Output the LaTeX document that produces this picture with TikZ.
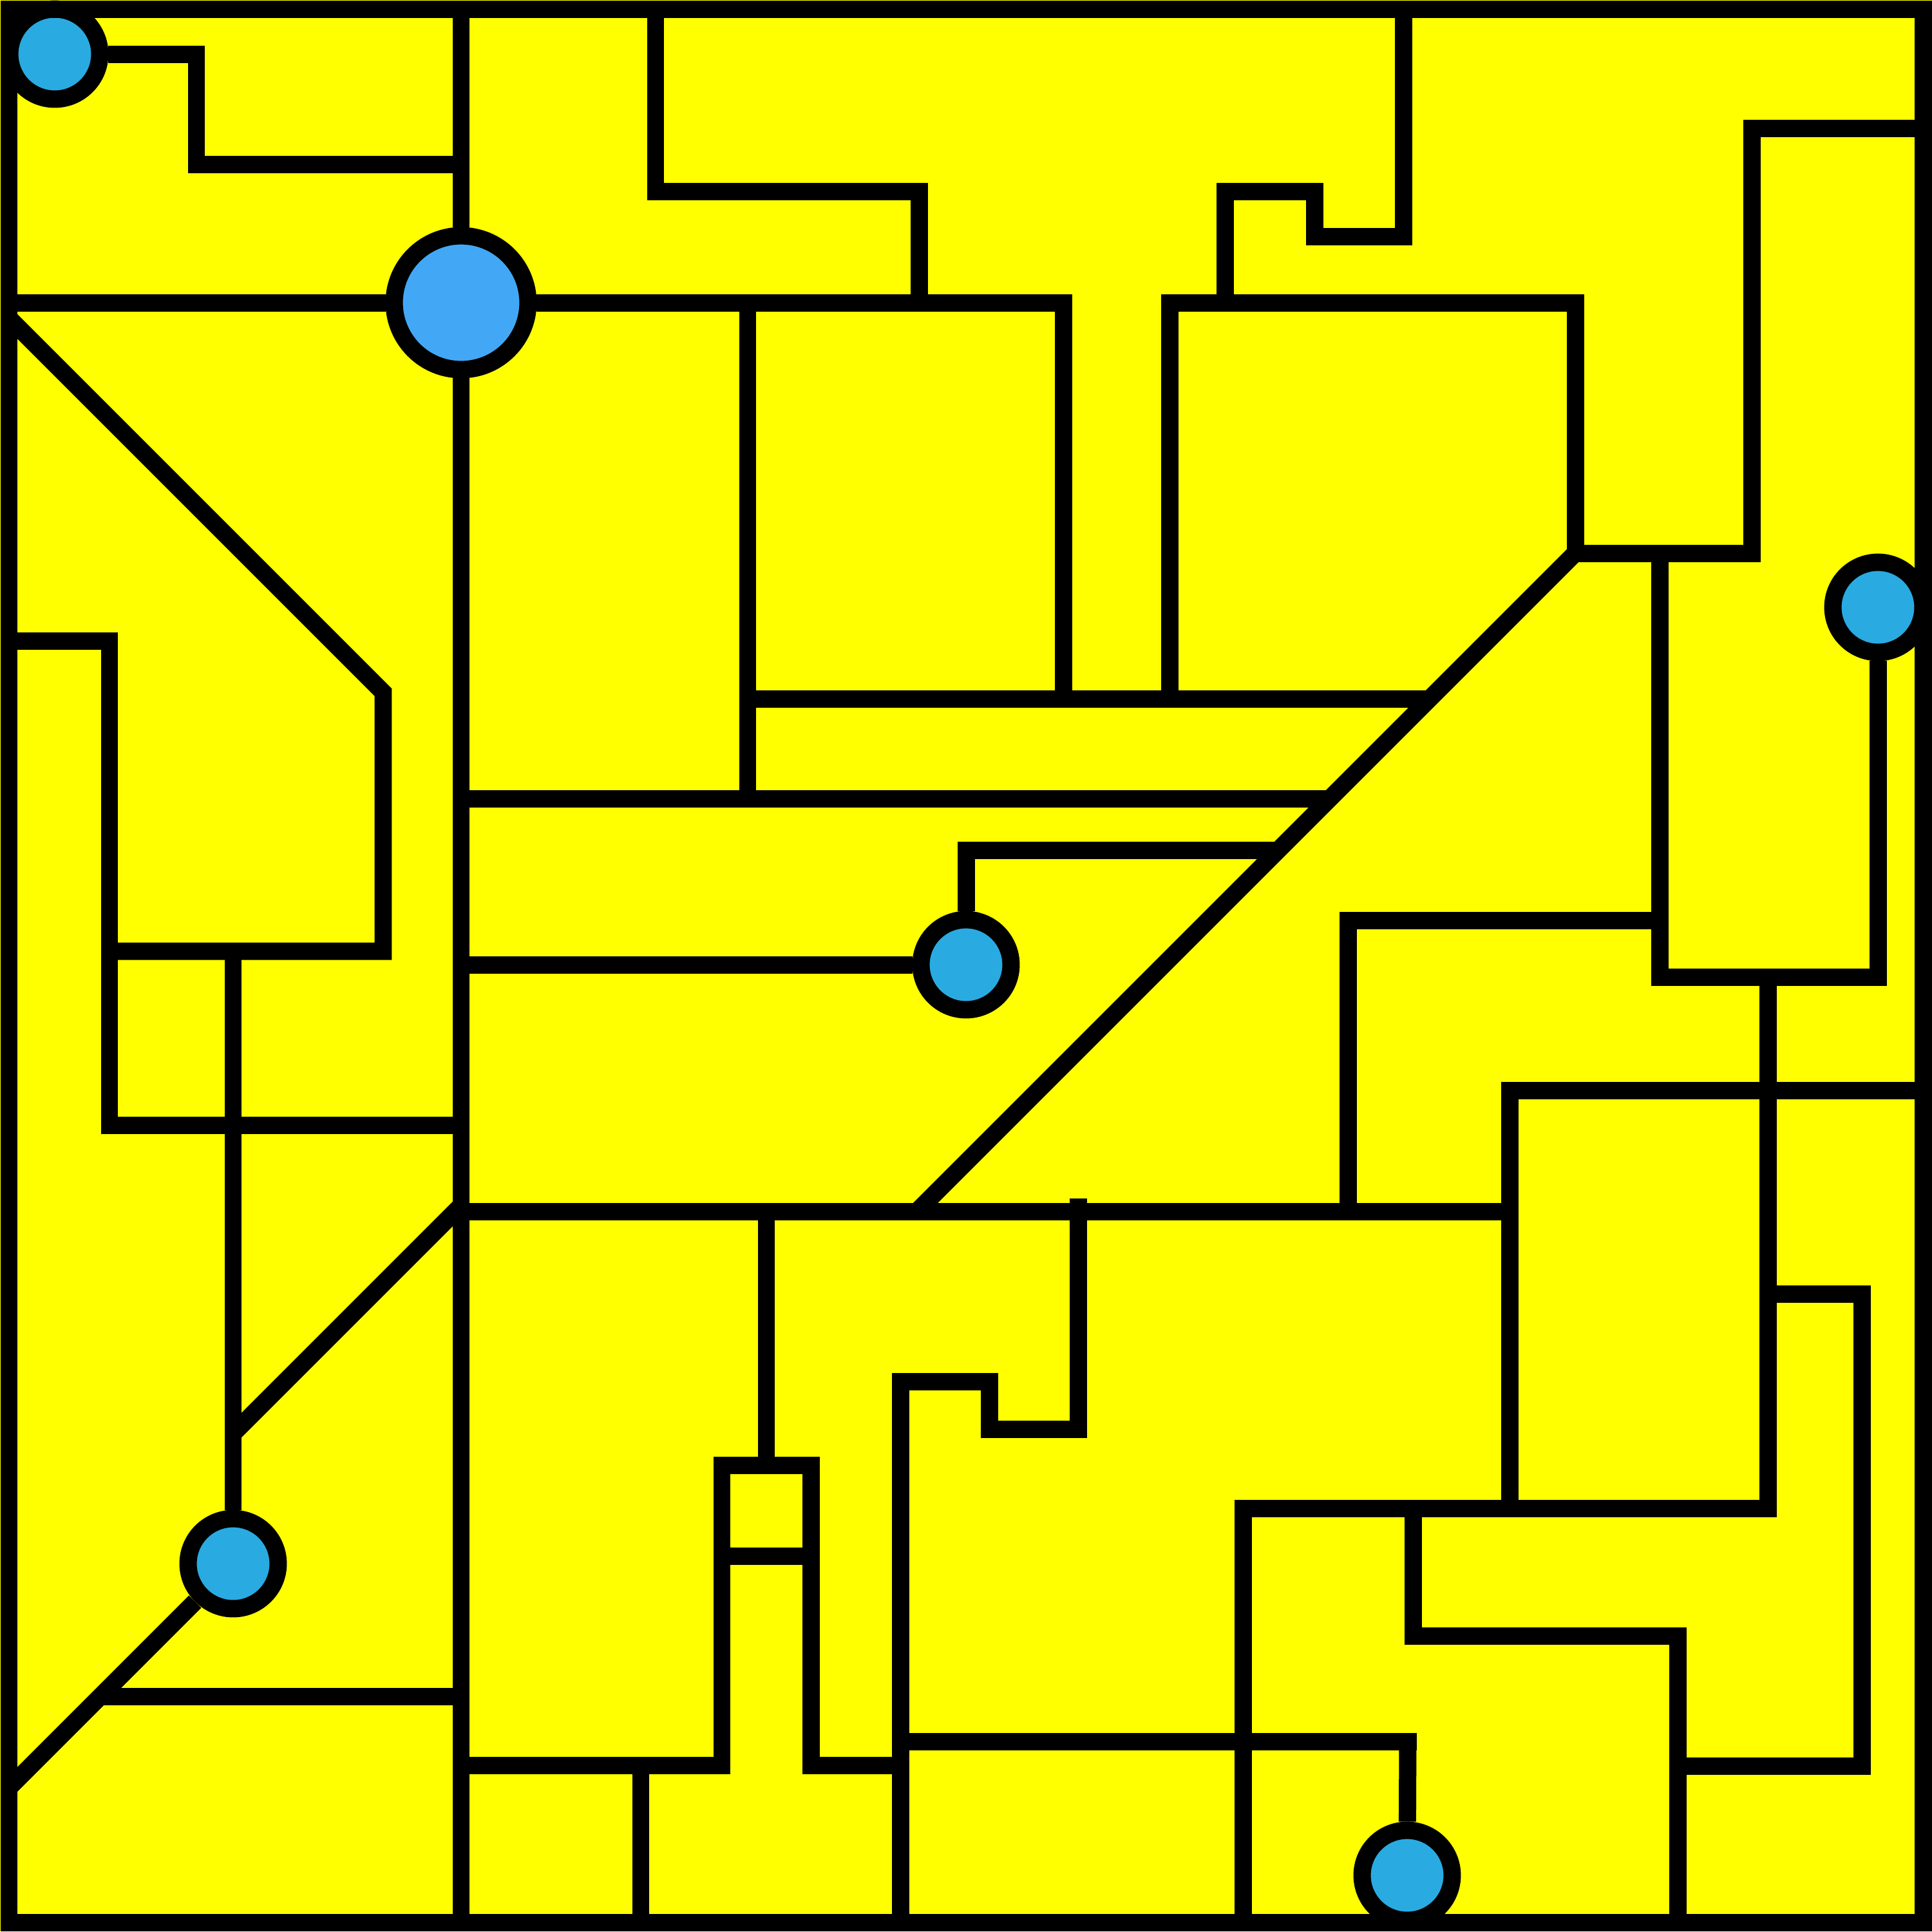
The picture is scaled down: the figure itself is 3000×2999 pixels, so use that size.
\documentclass[tikz,border=0pt]{standalone}
\definecolor{mazeyellow}{RGB}{255,255,0}
\definecolor{stopblue}{RGB}{41,171,226}
\definecolor{hubblue}{RGB}{66,168,245}
\tikzset{
  wall/.style={line width=0.135cm, line join=miter},
  stop/.style={circle, draw, line width=0.135cm, fill=stopblue, minimum size=0.7cm, inner sep=0pt},
  hub/.style={stop, fill=hubblue, minimum size=1.04cm}
}
\begin{document}
\begin{tikzpicture}[x=0.005cm, y=-0.005cm]
  \useasboundingbox (0,0) rectangle (3000,2999);
  \fill[mazeyellow] (0,0) rectangle (3000,2999);

  % stops
  \node[stop] (tl) at (85,84) {};
  \node[hub] (hub) at (716,470) {};
  \node[stop] (rt) at (2916,943) {};
  \node[stop] (mid) at (1500,1498) {};
  \node[stop] (ll) at (362,2428) {};
  \node[stop] (bt) at (2185,2912) {};

  % frame
  \draw[wall] (14,14) rectangle (2986,2985);

  % top band
  \draw[wall] (tl) -- (305,84) -- (305,255) -- (716,255);
  \draw[wall] (716,14) -- (hub);
  \draw[wall] (hub) -- (716,2985);
  \draw[wall] (14,470) -- (hub);
  \draw[wall] (hub) -- (1651,470) -- (1651,1085);
  \draw[wall] (1018,14) -- (1018,297) -- (1427,297) -- (1427,470);
  \draw[wall] (1161,470) -- (1161,1240);
  \draw[wall] (1161,1085) -- (2220,1085);
  \draw[wall] (1816,1085) -- (1816,470) -- (2446,470) -- (2446,859)
    -- (2720,859) -- (2720,199) -- (2986,199);
  \draw[wall] (1902,470) -- (1902,297) -- (2041,297) -- (2041,367)
    -- (2179,367) -- (2179,14);

  % long diagonal and its side walls
  \draw[wall] (2446,859) -- (1424,1881);
  \draw[wall] (716,1240) -- (2065,1240);
  \draw[wall] (mid) -- (1500,1320) -- (1985,1320);
  \draw[wall] (716,1498) -- (mid);
  \draw[wall] (2577,859) -- (2577,1517) -- (2916,1517) -- (rt);
  \draw[wall] (2577,1429) -- (2093,1429) -- (2093,1881);
  \draw[wall] (716,1881) -- (2344,1881);

  % left side
  \draw[wall] (14,494) -- (595,1075) -- (595,1477) -- (170,1477);
  \draw[wall] (14,995) -- (170,995) -- (170,1747) -- (716,1747);
  \draw[wall] (362,1477) -- (ll);
  \draw[wall] (362,2226) -- (716,1872);
  \draw[wall] (ll) -- (14,2776);
  \draw[wall] (156,2634) -- (716,2634);

  % bottom middle
  \draw[wall] (716,2741) -- (1121,2741) -- (1121,2275) -- (1259,2275)
    -- (1259,2741) -- (1398,2741);
  \draw[wall] (1121,2416) -- (1259,2416);
  \draw[wall] (1190,1881) -- (1190,2275);
  \draw[wall] (995,2741) -- (995,2985);
  \draw[wall] (1398,2985) -- (1398,2145) -- (1536,2145) -- (1536,2219)
    -- (1674,2219) -- (1674,1861);
  \draw[wall] (1398,2704) -- (2200,2704);
  \draw[wall] (2186,2704) -- (bt);

  % bottom right
  \draw[wall] (2745,1517) -- (2745,2342) -- (1930,2342) -- (1930,2985);
  \draw[wall] (2986,1693) -- (2344,1693) -- (2344,2342);
  \draw[wall] (2745,2009) -- (2891,2009) -- (2891,2742) -- (2605,2742);
  \draw[wall] (2194,2342) -- (2194,2540) -- (2605,2540) -- (2605,2985);
\end{tikzpicture}
\end{document}
